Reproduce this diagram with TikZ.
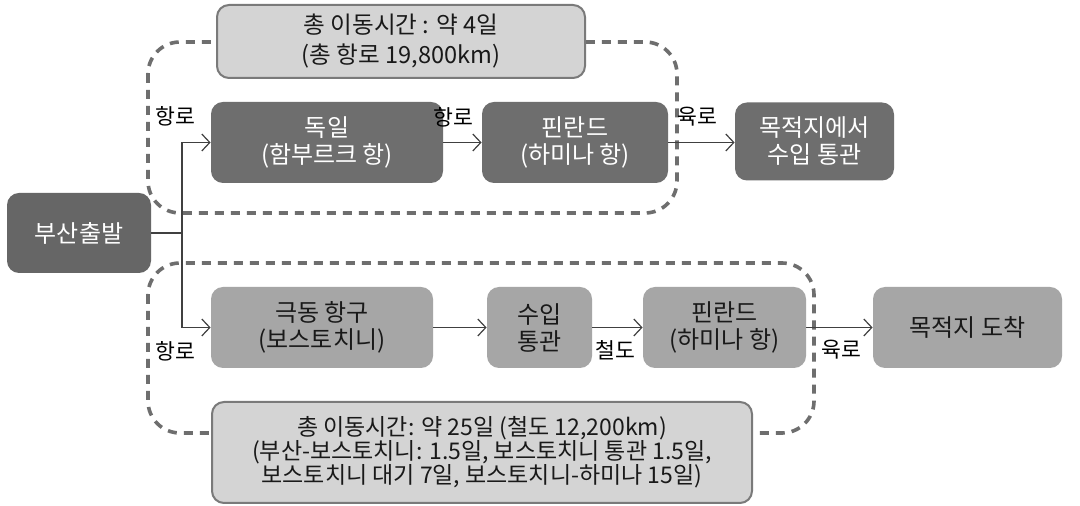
\documentclass[tikz,border=0pt]{standalone}
\usepackage{fontspec}
\setmainfont{Noto Sans CJK KR}
\usetikzlibrary{arrows.meta}
\definecolor{darkbox}{HTML}{6E6E6E}
\definecolor{startbox}{HTML}{666666}
\definecolor{midbox}{HTML}{A6A6A6}
\definecolor{lightbox}{HTML}{D4D4D4}
\definecolor{edgegray}{HTML}{7A7A7A}
\definecolor{dashgray}{HTML}{6E6E6E}
\definecolor{linegray}{HTML}{404040}
\tikzset{
  box/.style={rounded corners=6pt, inner sep=0pt, align=center, font=\fontsize{12}{13.5}\selectfont},
  darkb/.style={box, fill=darkbox, text=white},
  startb/.style={box, fill=startbox, text=white},
  midb/.style={box, fill=midbox, text=black!90},
  sumb/.style={box, fill=lightbox, draw=edgegray, line width=1pt, text=black!90},
  group/.style={draw=dashgray, line width=1.8pt, dash pattern=on 4.5pt off 3.5pt, rounded corners=16pt},
  conn/.style={draw=linegray, line width=0.65pt, -{Straight Barb[length=4pt,width=8.5pt,line width=0.6pt]}},
  plain/.style={draw=linegray, line width=0.65pt},
  lbl/.style={inner sep=0pt, font=\fontsize{10.8}{12}\selectfont, text=black}
}
\begin{document}
\begin{tikzpicture}[x=0.5pt,y=-0.5pt]
\useasboundingbox[fill=white] (0,0) rectangle (1080,506);
% dashed groups
\draw[group] (148,42) rectangle (677,213);
\draw[group] (148,263) rectangle (814,433);
% nodes
\node[sumb, minimum width=184pt, minimum height=36.5pt, font=\fontsize{11.8}{15}\selectfont] (sumA) at (401,41.5) {총 이동시간 : 약 4일\\(총 항로 19,800km)};
\node[darkb, minimum width=116pt, minimum height=40.5pt] (de) at (327,142.5) {독일\\(함부르크 항)};
\node[darkb, minimum width=93pt, minimum height=40.5pt] (fiA) at (575,142.5) {핀란드\\(하미나 항)};
\node[darkb, minimum width=79.5pt, minimum height=39pt] (destA) at (814.5,141.5) {목적지에서\\수입 통관};
\node[startb, minimum width=72pt, minimum height=40pt] (busan) at (79,233) {부산출발};
\node[midb, minimum width=111pt, minimum height=40.5pt] (fe) at (322,327.5) {극동 항구\\(보스토치니)};
\node[midb, minimum width=52.5pt, minimum height=40.5pt] (cust) at (539.5,327.5) {수입\\통관};
\node[midb, minimum width=81.5pt, minimum height=40.5pt] (fiB) at (724.5,327.5) {핀란드\\(하미나 항)};
\node[midb, minimum width=94.5pt, minimum height=40.5pt] (destB) at (967.5,327.5) {목적지 도착};
\node[sumb, minimum width=270pt, minimum height=50.5pt, font=\fontsize{11.5}{12}\selectfont] (sumB) at (482,452.5) {총 이동시간: 약 25일 (철도 12,200km)\\(부산-보스토치니: 1.5일, 보스토치니 통관 1.5일,\\보스토치니 대기 7일, 보스토치니-하미나 15일)};
% connectors
\coordinate (j) at (182,233);
\draw[plain] (busan.east) -- (j);
\draw[conn] (j) |- (de.west);
\draw[conn] (j) |- (fe.west);
\draw[conn] (de.east) -- (fiA.west);
\draw[conn] (fiA.east) -- (fiA.east -| destA.west);
\draw[conn] (fe.east) -- (cust.west);
\draw[conn] (cust.east) -- (fiB.west);
\draw[conn] (fiB.east) -- (destB.west);
% labels
\node[lbl] (l1) at (175,116) {항로};
\node[lbl] (l2) at (453,117) {항로};
\node[lbl] (l3) at (697,117) {육로};
\node[lbl] (l4) at (175,351) {항로};
\node[lbl] (l5) at (615,350) {철도};
\node[lbl] (l6) at (841,350) {육로};
\end{tikzpicture}
\end{document}
